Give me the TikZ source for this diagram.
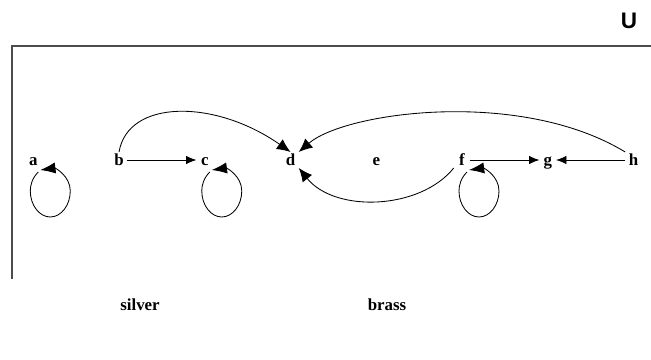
\documentclass[tikz,border=0pt]{standalone}
\usepackage{fontspec}
\setmainfont{Liberation Serif}
\newfontfamily\headfont{Liberation Sans}
\usetikzlibrary{arrows.meta, positioning, matrix}

\begin{document}
\begin{tikzpicture}[x=0.025cm, y=-0.025cm,
    vertex/.style={font=\fontsize{12}{14}\selectfont\bfseries,
        minimum width=4mm, text height=8pt, text depth=0pt,
        inner sep=1.5pt},
    setname/.style={font=\fontsize{12}{14}\selectfont\bfseries},
    edge/.style={semithick, -{Latex[length=2.6mm, width=2.1mm]}},
    curve/.style={semithick, -{Latex[length=3.4mm, width=3mm]}},
    selfloop/.style={semithick, -{Latex[length=3.8mm, width=2.8mm]}},
    frame/.style={draw=black!70, line width=1.2pt}]
    \useasboundingbox (0,0) rectangle (651,360);

    \draw[frame] (12,279) -- (12,46) -- (651,46);
    \node[font=\headfont\fontsize{16}{18}\selectfont\bfseries] (U) at (629,21) {U};

    \matrix (m) [matrix of nodes, nodes={vertex},
        inner sep=0pt, column sep=1.743cm, anchor=west
        %nodes=draw
    ] at (25,160)
    {
        a & b & c & d & e & f & g & h \\
    };

    \node[setname] (silver) at (140,305) {silver};
    \node[setname] (brass) at (387,305) {brass};

    \draw[edge] (m-1-2) -- (m-1-3);
    \draw[edge] (m-1-6) -- (m-1-7);
    \draw[edge] (m-1-8) -- (m-1-7);

    \draw[curve] (m-1-2.north) .. controls (128,99) and (215,99) .. (m-1-4.north);
    \draw[curve] (m-1-8.north west) .. controls (520,88) and (345,112) .. (m-1-4.north east);
    \draw[curve] (m-1-6.south west) .. controls (420,210) and (335,213) .. (m-1-4.south east);

    \foreach \v in {1,3,6}
        \draw[selfloop, shift={(m-1-\v)}] (5,12) .. controls (-1,18) and (-3,25) .. (-3,31)
            .. controls (-3,45) and (6,57) .. (17,57) .. controls (28,57) and (37,45) .. (37,31)
            .. controls (37,16) and (22,8) .. (7,10);
\end{tikzpicture}
\end{document}
